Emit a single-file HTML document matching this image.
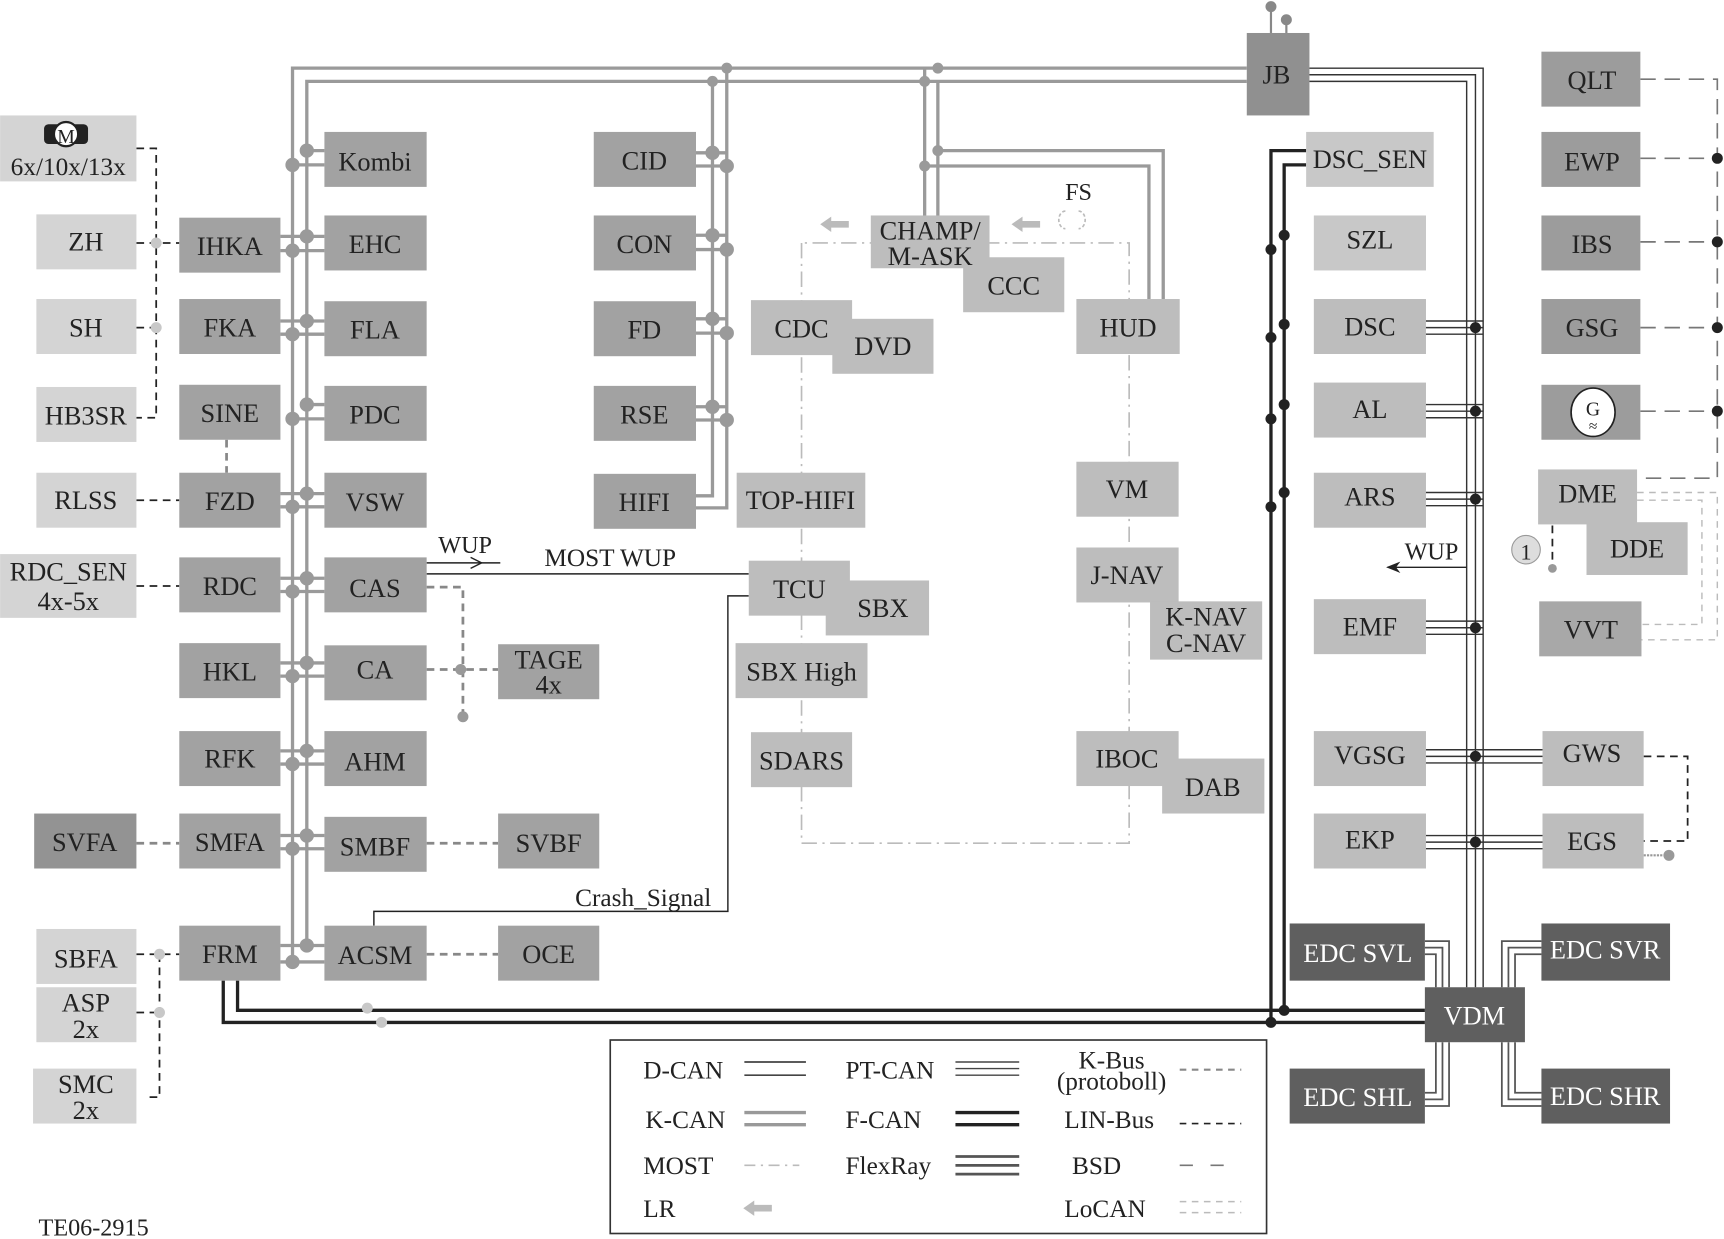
<!DOCTYPE html>
<html><head><meta charset="utf-8"><style>
html,body{margin:0;padding:0;background:#fff}
svg{display:block}
text{font-family:"Liberation Serif",serif;fill:#222}
</style></head><body>
<svg width="1724" height="1239" viewBox="0 0 1568 1127" xmlns="http://www.w3.org/2000/svg">
<defs>
<marker id="ah" markerWidth="10" markerHeight="8" refX="9" refY="4" orient="auto"><path d="M0,0 L10,4 L0,8 L3,4 Z" fill="#222"/></marker>
</defs>
<!-- K-CAN loops -->
<g fill="none" stroke="#9a9a9a" stroke-width="3">
<path d="M266,875 V62 H1134"/>
<path d="M279,860 V74 H1134"/>
<path d="M661,62 V462 H633"/>
<path d="M648,74 V451 H633"/>
<path d="M841,62 V196"/><path d="M853,74 V196"/>
<path d="M841,151 H1045 V272"/><path d="M853,137 H1058 V272"/>
</g>
<g fill="#9a9a9a">
<circle cx="661" cy="62" r="5"/><circle cx="648" cy="74" r="5"/>
<circle cx="841" cy="74" r="5"/><circle cx="853" cy="62" r="5"/>
<circle cx="841" cy="151" r="5"/><circle cx="853" cy="137" r="5"/>
</g>
<g stroke="#9a9a9a" stroke-width="3" fill="#9a9a9a">
<!-- left column rows -->
<line x1="266" y1="150" x2="295" y2="150"/><line x1="279" y1="137" x2="295" y2="137"/><circle cx="266" cy="150" r="5"/><circle cx="279" cy="137" r="5"/>
<line x1="255" y1="215" x2="295" y2="215"/><line x1="255" y1="228" x2="295" y2="228"/><circle cx="279" cy="215" r="5"/><circle cx="266" cy="228" r="5"/>
<line x1="255" y1="292" x2="295" y2="292"/><line x1="255" y1="304" x2="295" y2="304"/><circle cx="279" cy="292" r="5"/><circle cx="266" cy="304" r="5"/>
<line x1="266" y1="381" x2="295" y2="381"/><line x1="279" y1="368" x2="295" y2="368"/><circle cx="279" cy="368" r="5"/><circle cx="266" cy="381" r="5"/>
<line x1="255" y1="449" x2="295" y2="449"/><line x1="255" y1="461" x2="295" y2="461"/><circle cx="279" cy="449" r="5"/><circle cx="266" cy="461" r="5"/>
<line x1="255" y1="526" x2="295" y2="526"/><line x1="255" y1="538" x2="295" y2="538"/><circle cx="279" cy="526" r="5"/><circle cx="266" cy="538" r="5"/>
<line x1="255" y1="603" x2="295" y2="603"/><line x1="255" y1="615" x2="295" y2="615"/><circle cx="279" cy="603" r="5"/><circle cx="266" cy="615" r="5"/>
<line x1="255" y1="683" x2="295" y2="683"/><line x1="255" y1="695" x2="295" y2="695"/><circle cx="279" cy="683" r="5"/><circle cx="266" cy="695" r="5"/>
<line x1="255" y1="760" x2="295" y2="760"/><line x1="255" y1="772" x2="295" y2="772"/><circle cx="279" cy="760" r="5"/><circle cx="266" cy="772" r="5"/>
<line x1="255" y1="860" x2="295" y2="860"/><line x1="255" y1="875" x2="295" y2="875"/><circle cx="279" cy="860" r="5"/><circle cx="266" cy="875" r="5"/>
<!-- CID column rows -->
<line x1="633" y1="139" x2="661" y2="139"/><line x1="633" y1="151" x2="661" y2="151"/><circle cx="648" cy="139" r="5"/><circle cx="661" cy="151" r="5"/>
<line x1="633" y1="214" x2="661" y2="214"/><line x1="633" y1="227" x2="661" y2="227"/><circle cx="648" cy="214" r="5"/><circle cx="661" cy="227" r="5"/>
<line x1="633" y1="290" x2="661" y2="290"/><line x1="633" y1="303" x2="661" y2="303"/><circle cx="648" cy="290" r="5"/><circle cx="661" cy="303" r="5"/>
<line x1="633" y1="370" x2="661" y2="370"/><line x1="633" y1="382" x2="661" y2="382"/><circle cx="648" cy="370" r="5"/><circle cx="661" cy="382" r="5"/>
</g>
<!-- JB antenna -->
<g stroke="#888" stroke-width="2" fill="#888"><line x1="1156" y1="30" x2="1156" y2="6"/><circle cx="1156" cy="6" r="4"/><line x1="1170" y1="30" x2="1170" y2="18"/><circle cx="1170" cy="18" r="4"/></g>
<!-- PT-CAN from JB -->
<g fill="none" stroke="#333" stroke-width="1.3">
<path d="M1191,62 H1349 V898"/><path d="M1191,68 H1342 V898"/><path d="M1191,74 H1334 V898"/>
<path d="M1286,292 H1349 M1286,298 H1349 M1286,304 H1349"/>
<path d="M1286,368 H1349 M1286,374 H1349 M1286,380 H1349"/>
<path d="M1286,448 H1349 M1286,454 H1349 M1286,460 H1349"/>
<path d="M1286,565 H1349 M1286,571 H1349 M1286,577 H1349"/>
<path d="M1286,682 H1403 M1286,688 H1403 M1286,694 H1403"/>
<path d="M1286,760 H1403 M1286,766 H1403 M1286,772 H1403"/>
</g>
<g fill="#222"><circle cx="1342" cy="298" r="5"/><circle cx="1342" cy="374" r="5"/><circle cx="1342" cy="454" r="5"/><circle cx="1342" cy="571" r="5"/><circle cx="1342" cy="688" r="5"/><circle cx="1342" cy="766" r="5"/></g>
<!-- FlexRay EDC -->
<g fill="none" stroke="#555" stroke-width="1.6">
<path d="M1296,856 H1318 V898 M1296,862 H1312 V898 M1296,868 H1306 V898"/>
<path d="M1402,856 H1366 V898 M1402,862 H1372 V898 M1402,868 H1378 V898"/>
<path d="M1296,1006 H1318 V948 M1296,1000 H1312 V948 M1296,994 H1306 V948"/>
<path d="M1402,1006 H1366 V948 M1402,1000 H1372 V948 M1402,994 H1378 V948"/>
</g>
<!-- F-CAN -->
<g fill="none" stroke="#222" stroke-width="3">
<path d="M216,892 V919 H1296"/><path d="M203,892 V930 H1296"/>
<path d="M1188,137 H1156 V930"/><path d="M1188,150 H1168 V919"/>
</g>
<g fill="#222"><circle cx="1156" cy="227" r="5"/><circle cx="1156" cy="307" r="5"/><circle cx="1156" cy="381" r="5"/><circle cx="1156" cy="461" r="5"/><circle cx="1156" cy="930" r="5"/>
<circle cx="1168" cy="214" r="5"/><circle cx="1168" cy="295" r="5"/><circle cx="1168" cy="368" r="5"/><circle cx="1168" cy="448" r="5"/><circle cx="1168" cy="919" r="5"/></g>
<g fill="#c8c8c8"><circle cx="334" cy="917" r="5"/><circle cx="347" cy="930" r="5"/></g>
<!-- MOST -->
<path d="M729,221 V767 H1027 V221 H729" fill="none" stroke="#bbb" stroke-width="1.5" stroke-dasharray="14,5,2,5"/>
<g fill="#bbb"><path d="M746,204 l10,-7 v4 h16 v6 h-16 v4 z"/><path d="M920,204 l10,-7 v4 h16 v6 h-16 v4 z"/></g>
<path d="M969,192 a6,8 0 0 0 0,16 M981,192 a6,8 0 0 1 0,16" fill="none" stroke="#bbb" stroke-width="1.5" stroke-dasharray="3,2"/>
<text x="981" y="182" font-size="22" text-anchor="middle">FS</text>
<!-- signals -->
<g fill="none" stroke="#222" stroke-width="1.3">
<line x1="388" y1="512" x2="455" y2="512"/><path d="M428,507 L438,512 L428,517" />
<line x1="388" y1="522" x2="681" y2="522"/>
<path d="M340,842 V829 H662 V542 H681"/>
<line x1="1334" y1="516" x2="1262" y2="516" marker-end="url(#ah)"/>
</g>
<text x="423" y="503" font-size="22" text-anchor="middle">WUP</text>
<text x="555" y="515" font-size="23" text-anchor="middle">MOST WUP</text>
<text x="585" y="824" font-size="23" text-anchor="middle">Crash_Signal</text>
<text x="1302" y="509" font-size="22" text-anchor="middle">WUP</text>
<!-- LIN black dashed -->
<g fill="none" stroke="#222" stroke-width="1.6" stroke-dasharray="7,5">
<path d="M124,135 H142 V380 H124"/><path d="M124,221 H163"/><path d="M124,298 H142"/>
<path d="M124,455 H163"/><path d="M124,533 H163"/>
<path d="M124,868 H163"/><path d="M145,868 V998 H134"/><path d="M124,921 H145"/>
<path d="M1495,688 H1535 V765 H1495"/>
<path d="M1412,478 V515"/>
</g>
<g fill="#c8c8c8"><circle cx="142" cy="221" r="5"/><circle cx="142" cy="298" r="5"/><circle cx="145" cy="868" r="5"/><circle cx="145" cy="921" r="5"/></g>
<!-- K-Bus grey dashed -->
<g fill="none" stroke="#888" stroke-width="2.5" stroke-dasharray="7,5">
<path d="M388,534 H421 V652"/><path d="M388,609 H453"/><path d="M124,767 H163"/><path d="M388,767 H453"/><path d="M388,868 H453"/><path d="M206,400 V430"/>
</g>
<g fill="#999"><circle cx="419" cy="609" r="5"/><circle cx="421" cy="652" r="5"/><circle cx="1412" cy="517" r="4"/><circle cx="1518" cy="778" r="5"/></g>
<path d="M1495,778 H1518" stroke="#999" stroke-width="2" stroke-dasharray="2,1"/>
<!-- BSD -->
<g fill="none" stroke="#777" stroke-width="1.5" stroke-dasharray="14,8">
<path d="M1492,72 H1562 V435 H1489"/><path d="M1492,144 H1562 M1492,220 H1562 M1492,298 H1562 M1492,374 H1562"/>
</g>
<g fill="#222"><circle cx="1562" cy="144" r="5"/><circle cx="1562" cy="220" r="5"/><circle cx="1562" cy="298" r="5"/><circle cx="1562" cy="374" r="5"/></g>
<!-- LoCAN -->
<g fill="none" stroke="#bbb" stroke-width="1.3" stroke-dasharray="6,5">
<path d="M1489,448 H1562 V582 H1493"/><path d="M1489,455 H1548 V568 H1493"/>
</g>
<!-- boxes -->
<g font-size="24" text-anchor="middle">
<rect x="0" y="105" width="124" height="60" fill="#d4d4d4"/>
<text x="62" y="159" font-size="23">6x/10x/13x</text>
<rect x="40" y="113" width="40" height="18" rx="4" fill="#222"/><circle cx="60" cy="122" r="11" fill="#fff" stroke="#222" stroke-width="2"/><text x="60" y="130" font-size="18">M</text>
<g fill="#d4d4d4">
<rect x="33" y="195" width="91" height="50"/><rect x="33" y="272" width="91" height="50"/><rect x="33" y="352" width="91" height="50"/><rect x="33" y="430" width="91" height="50"/>
<rect x="0" y="504" width="124" height="58"/><rect x="33" y="845" width="91" height="50"/><rect x="33" y="898" width="91" height="50"/><rect x="30" y="972" width="94" height="50"/>
</g>
<text x="78" y="228">ZH</text><text x="78" y="306">SH</text><text x="78" y="386">HB3SR</text><text x="78" y="463">RLSS</text>
<text x="62" y="528">RDC_SEN</text><text x="62" y="555">4x-5x</text>
<text x="78" y="880">SBFA</text><text x="78" y="920">ASP</text><text x="78" y="944">2x</text><text x="78" y="994">SMC</text><text x="78" y="1018">2x</text>
<rect x="31" y="740" width="93" height="50" fill="#939393"/><text x="77" y="774">SVFA</text>
<g fill="#a2a2a2">
<rect x="163" y="198" width="92" height="50"/><rect x="163" y="272" width="92" height="50"/><rect x="163" y="350" width="92" height="50"/><rect x="163" y="430" width="92" height="50"/><rect x="163" y="507" width="92" height="50"/><rect x="163" y="585" width="92" height="50"/><rect x="163" y="665" width="92" height="50"/><rect x="163" y="740" width="92" height="50"/><rect x="163" y="842" width="92" height="50"/>
<rect x="295" y="120" width="93" height="50"/><rect x="295" y="196" width="93" height="50"/><rect x="295" y="274" width="93" height="50"/><rect x="295" y="351" width="93" height="50"/><rect x="295" y="430" width="93" height="50"/><rect x="295" y="507" width="93" height="50"/><rect x="295" y="587" width="93" height="50"/><rect x="295" y="665" width="93" height="50"/><rect x="295" y="743" width="93" height="50"/><rect x="295" y="842" width="93" height="50"/>
<rect x="453" y="586" width="92" height="50"/><rect x="453" y="740" width="92" height="50"/><rect x="453" y="842" width="92" height="50"/>
<rect x="540" y="120" width="93" height="50"/><rect x="540" y="196" width="93" height="50"/><rect x="540" y="274" width="93" height="50"/><rect x="540" y="351" width="93" height="50"/><rect x="540" y="431" width="93" height="50"/>
</g>
<text x="209" y="232">IHKA</text><text x="209" y="306">FKA</text><text x="209" y="384">SINE</text><text x="209" y="464">FZD</text><text x="209" y="541">RDC</text><text x="209" y="619">HKL</text><text x="209" y="698">RFK</text><text x="209" y="774">SMFA</text><text x="209" y="876">FRM</text>
<text x="341" y="155">Kombi</text><text x="341" y="230">EHC</text><text x="341" y="308">FLA</text><text x="341" y="385">PDC</text><text x="341" y="465">VSW</text><text x="341" y="543">CAS</text><text x="341" y="617">CA</text><text x="341" y="701">AHM</text><text x="341" y="778">SMBF</text><text x="341" y="877">ACSM</text>
<text x="499" y="608">TAGE</text><text x="499" y="631">4x</text><text x="499" y="775">SVBF</text><text x="499" y="876">OCE</text>
<text x="586" y="154">CID</text><text x="586" y="230">CON</text><text x="586" y="308">FD</text><text x="586" y="385">RSE</text><text x="586" y="465">HIFI</text>
<g fill="#bdbdbd">
<rect x="683" y="273" width="92" height="50"/><rect x="757" y="290" width="92" height="50"/><rect x="670" y="430" width="117" height="50"/><rect x="681" y="510" width="92" height="50"/><rect x="751" y="528" width="94" height="50"/><rect x="669" y="585" width="120" height="50"/><rect x="683" y="666" width="92" height="50"/>
<rect x="876" y="234" width="92" height="50"/><rect x="979" y="272" width="94" height="50"/><rect x="979" y="420" width="93" height="50"/><rect x="979" y="498" width="93" height="50"/><rect x="1046" y="547" width="102" height="53"/><rect x="979" y="665" width="93" height="50"/><rect x="1057" y="690" width="93" height="50"/>
<rect x="1195" y="272" width="102" height="50"/><rect x="1195" y="348" width="102" height="50"/><rect x="1195" y="430" width="102" height="50"/><rect x="1195" y="545" width="102" height="50"/><rect x="1195" y="665" width="102" height="50"/><rect x="1195" y="740" width="102" height="50"/>
<rect x="1399" y="427" width="90" height="50"/><rect x="1443" y="475" width="92" height="48"/><rect x="1403" y="665" width="92" height="50"/><rect x="1403" y="740" width="92" height="50"/>
</g>
<rect x="792" y="196" width="108" height="48" fill="#bdbdbd"/>
<rect x="1188" y="120" width="116" height="50" fill="#c8c8c8"/><rect x="1195" y="196" width="102" height="50" fill="#c8c8c8"/>
<text x="729" y="307">CDC</text><text x="803" y="323">DVD</text><text x="728" y="463">TOP-HIFI</text><text x="727" y="544">TCU</text><text x="803" y="561">SBX</text><text x="729" y="619">SBX High</text><text x="729" y="700">SDARS</text>
<text x="846" y="218">CHAMP/</text><text x="846" y="241">M-ASK</text><text x="922" y="268">CCC</text><text x="1026" y="306">HUD</text><text x="1025" y="453">VM</text><text x="1025" y="531">J-NAV</text><text x="1097" y="569">K-NAV</text><text x="1097" y="593">C-NAV</text><text x="1025" y="698">IBOC</text><text x="1103" y="724">DAB</text>
<text x="1246" y="153">DSC_SEN</text><text x="1246" y="226">SZL</text><text x="1246" y="305">DSC</text><text x="1246" y="380">AL</text><text x="1246" y="460">ARS</text><text x="1246" y="578">EMF</text><text x="1246" y="695">VGSG</text><text x="1246" y="772">EKP</text>
<rect x="1134" y="30" width="57" height="75" fill="#909090"/><text x="1161" y="76">JB</text>
<g fill="#9c9c9c"><rect x="1402" y="47" width="90" height="50"/><rect x="1402" y="120" width="90" height="50"/><rect x="1402" y="196" width="90" height="50"/><rect x="1402" y="272" width="90" height="50"/><rect x="1402" y="350" width="90" height="50"/></g>
<rect x="1400" y="547" width="93" height="50" fill="#a8a8a8"/>
<text x="1448" y="81">QLT</text><text x="1448" y="155">EWP</text><text x="1448" y="230">IBS</text><text x="1448" y="306">GSG</text>
<ellipse cx="1449" cy="375" rx="20" ry="22" fill="#fff" stroke="#222" stroke-width="1.5"/><text x="1449" y="378" font-size="18">G</text><text x="1449" y="392" font-size="14">≈</text>
<text x="1444" y="457">DME</text><text x="1489" y="507">DDE</text><text x="1447" y="581">VVT</text><text x="1448" y="693">GWS</text><text x="1448" y="773">EGS</text>
<circle cx="1388" cy="500" r="13" fill="#ddd" stroke="#999"/><text x="1388" y="509" font-size="20">1</text>
<g fill="#5f5f5f"><rect x="1173" y="840" width="123" height="52"/><rect x="1402" y="840" width="117" height="52"/><rect x="1296" y="898" width="91" height="50"/><rect x="1173" y="972" width="123" height="50"/><rect x="1402" y="972" width="117" height="50"/></g>
<g style="fill:#fff"><text x="1235" y="875" style="fill:#fff">EDC SVL</text><text x="1460" y="872" style="fill:#fff">EDC SVR</text><text x="1341" y="932" style="fill:#fff">VDM</text><text x="1235" y="1006" style="fill:#fff">EDC SHL</text><text x="1460" y="1005" style="fill:#fff">EDC SHR</text></g>
</g>
<!-- legend -->
<rect x="555" y="946" width="597" height="176" fill="none" stroke="#333" stroke-width="1.5"/>
<g font-size="23">
<text x="585" y="981">D-CAN</text><text x="587" y="1026">K-CAN</text><text x="585" y="1068">MOST</text><text x="585" y="1107">LR</text>
<text x="769" y="981">PT-CAN</text><text x="769" y="1026">F-CAN</text><text x="769" y="1068">FlexRay</text>
<text x="1011" y="972" text-anchor="middle">K-Bus</text><text x="1011" y="991" text-anchor="middle">(protoboll)</text>
<text x="968" y="1026">LIN-Bus</text><text x="975" y="1068">BSD</text><text x="968" y="1107">LoCAN</text>
</g>
<text x="35" y="1124" font-size="22">TE06-2915</text>
<g fill="none">
<path d="M677,966 H733 M677,978 H733" stroke="#444" stroke-width="1.5"/>
<path d="M677,1012 H733 M677,1023 H733" stroke="#999" stroke-width="3"/>
<path d="M677,1060 H727" stroke="#bbb" stroke-width="1.5" stroke-dasharray="10,5,2,5"/>
<path d="M869,966 H927 M869,972 H927 M869,978 H927" stroke="#444" stroke-width="1.3"/>
<path d="M869,1012 H927 M869,1023 H927" stroke="#222" stroke-width="3"/>
<path d="M869,1052 H927 M869,1060 H927 M869,1068 H927" stroke="#555" stroke-width="2.5"/>
<path d="M1073,973 H1129" stroke="#888" stroke-width="2" stroke-dasharray="6,5"/>
<path d="M1073,1022 H1129" stroke="#222" stroke-width="1.5" stroke-dasharray="6,5"/>
<path d="M1073,1060 H1123" stroke="#777" stroke-width="1.5" stroke-dasharray="12,16"/>
<path d="M1073,1093 H1129 M1073,1103 H1129" stroke="#bbb" stroke-width="1.3" stroke-dasharray="6,5"/>
</g>
<path d="M676,1099 l10,-7 v4 h16 v6 h-16 v4 z" fill="#bbb"/>
</svg>
</body></html>
